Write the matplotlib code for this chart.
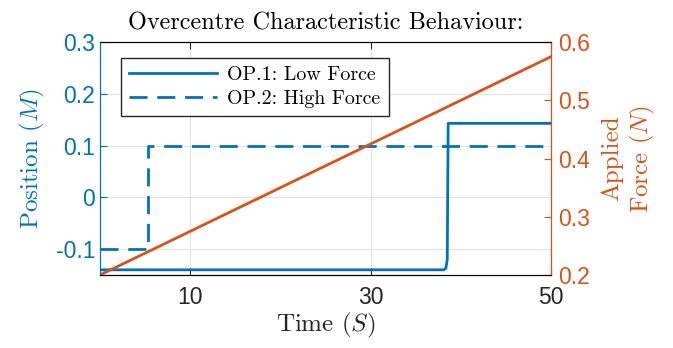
import matplotlib
matplotlib.use("Agg")
import matplotlib.pyplot as plt

# data
t_op1 = [0, 38.1, 38.35, 38.5, 38.6, 50]
pos_op1 = [-0.14, -0.14, -0.137, -0.12, 0.143, 0.143]
t_op2 = [0, 5.3, 5.3, 50]
pos_op2 = [-0.1, -0.1, 0.1, 0.1]
t_force = [0, 50]
force = [0.2, 0.575]

blue = '#0072BD'
orange = '#D95319'

plt.rcParams['mathtext.fontset'] = 'cm'
plt.rcParams['axes.unicode_minus'] = False
plt.rcParams['xtick.direction'] = 'in'
plt.rcParams['ytick.direction'] = 'in'
serif = 'cmr10'
sans = 'Liberation Sans'

fig = plt.figure(figsize=(6.73, 3.48), dpi=100)
ax = fig.add_axes([0.1486, 0.2098, 0.6701, 0.6692])
ax.plot(t_op1, pos_op1, color=blue, lw=2, label='OP.1: Low Force')
ax.plot(t_op2, pos_op2, color=blue, lw=2, ls=(0, (6.5, 3.5)), label='OP.2: High Force')
ax.set_xlim(0, 50)
ax.set_ylim(-0.15, 0.3)
ax.set_xticks([10, 30, 50])
ax.set_yticks([-0.1, 0, 0.1, 0.2, 0.3])
ax.set_yticklabels(['-0.1', '0', '0.1', '0.2', '0.3'])
ax.grid(True, color='#dfe3e8', lw=0.8)
ax.set_axisbelow(True)
ax.tick_params(axis='y', colors=blue, labelsize=16.5, length=5)
ax.tick_params(axis='x', colors='#262626', labelsize=16.5, length=5, top=True, pad=8)
for lab in ax.get_xticklabels() + ax.get_yticklabels():
    lab.set_family(sans)
ax.spines['left'].set_color(blue)
ax.spines['top'].set_color('#262626')
ax.spines['bottom'].set_color('#262626')
ax.set_xlabel('Time ($S$)', fontsize=18, family=serif, color='#262626', labelpad=1)
ax.set_ylabel('Position ($M$)', fontsize=18, family=serif, color=blue, labelpad=6)
ax.set_title('Overcentre Characteristic Behaviour:', fontsize=17.5, family=serif, pad=9)

leg = ax.legend(loc='upper left', bbox_to_anchor=(0.025, 0.975), fancybox=False,
                edgecolor='#262626', framealpha=1, handlelength=4.4,
                prop={'family': serif, 'size': 14.4}, borderpad=0.4,
                labelspacing=0.3, handletextpad=0.5)
leg.get_frame().set_linewidth(1)

ax2 = ax.twinx()
ax2.plot(t_force, force, color=orange, lw=2)
ax2.set_ylim(0.2, 0.6)
ax2.set_yticks([0.2, 0.3, 0.4, 0.5, 0.6])
ax2.tick_params(axis='y', colors=orange, labelsize=16.5, length=5, direction='in', pad=5)
for lab in ax2.get_yticklabels():
    lab.set_family(sans)
ax2.spines['right'].set_color(orange)
ax2.spines['left'].set_color(blue)
ax2.set_ylabel('Applied\nForce ($N$)', fontsize=18, family=serif, color=orange,
               linespacing=1.2, labelpad=8)

fig.savefig('out.png', dpi=100)
